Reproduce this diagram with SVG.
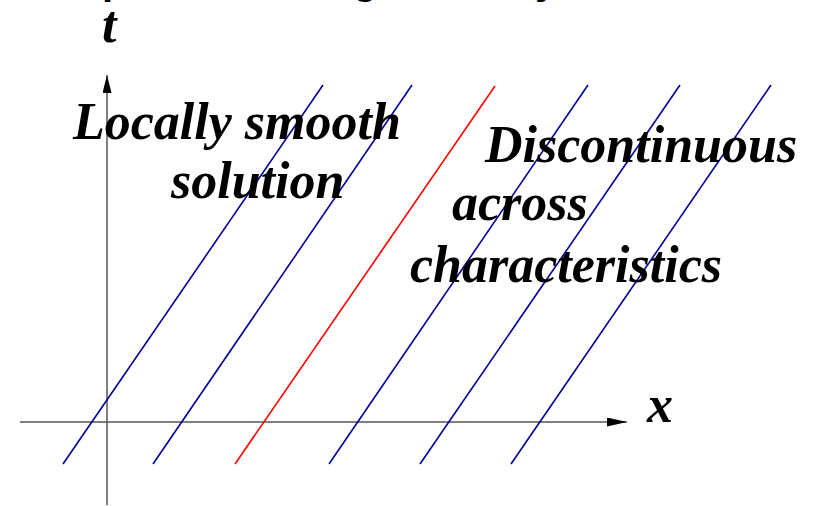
<svg xmlns="http://www.w3.org/2000/svg" width="816" height="506" viewBox="0 0 816 506">
  <defs>
    <style>
      .lbl { font-family: "Liberation Serif", "Times New Roman", serif; font-weight: bold; font-style: italic; font-size: 52px; fill: #000; }
      .head { font-family: "Liberation Sans", Arial, sans-serif; font-weight: bold; font-size: 40px; fill: #000; }
      .char { fill: none; stroke: #000099; stroke-width: 1.6; }
      .shock { fill: none; stroke: #ff0000; stroke-width: 1.6; }
    </style>
    <marker id="arrX" markerUnits="userSpaceOnUse" markerWidth="20" markerHeight="9" refX="20" refY="4.5" orient="auto">
      <path d="M0,0 L20,4.5 L0,9 Z" fill="#000"/>
    </marker>
    <marker id="arrT" markerUnits="userSpaceOnUse" markerWidth="18" markerHeight="9" refX="18" refY="4.5" orient="auto">
      <path d="M0,0 L18,4.5 L0,9 Z" fill="#000"/>
    </marker>
  </defs>
  <rect width="816" height="506" fill="#fff"/>

  <g id="heading-fragment">
    <text class="head" x="102" y="-6">p</text>
    <text class="head" x="353" y="-6">g</text>
    <text class="head" x="535" y="-6">y</text>
  </g>

  <g id="connectors">
    <line id="t-axis" x1="107" y1="505" x2="107" y2="75" stroke="#000" stroke-width="1" marker-end="url(#arrT)"/>
    <line id="x-axis" x1="20" y1="422" x2="627" y2="422" stroke="#555" stroke-width="1.6" marker-end="url(#arrX)"/>
    <line class="char" x1="63" y1="464" x2="323" y2="85"/>
    <line class="char" x1="153" y1="464" x2="412" y2="85"/>
    <line class="shock" x1="235" y1="464" x2="495" y2="86"/>
    <line class="char" x1="329" y1="464" x2="588" y2="85"/>
    <line class="char" x1="420" y1="464" x2="680" y2="85"/>
    <line class="char" x1="511" y1="464" x2="771" y2="85"/>
  </g>

  <g id="label-t"><text class="lbl" x="102" y="42">t</text></g>
  <g id="label-x"><text class="lbl" x="647" y="422">x</text></g>
  <g id="label-smooth">
    <text class="lbl" x="73" y="139">Locally smooth</text>
    <text class="lbl" x="171" y="198">solution</text>
  </g>
  <g id="label-discontinuous">
    <text class="lbl" x="485" y="162">Discontinuous</text>
    <text class="lbl" x="452" y="220">across</text>
    <text class="lbl" x="410" y="282">characteristics</text>
  </g>
</svg>
